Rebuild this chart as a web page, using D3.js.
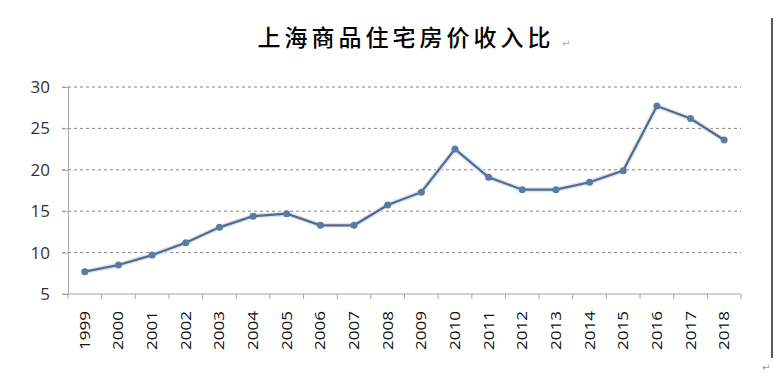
<!DOCTYPE html>
<html>
<head>
<meta charset="utf-8">
<script src="https://cdn.jsdelivr.net/npm/d3@7"></script>
<style>
  body { margin: 0; background: #fff; }
  svg { display: block; }
</style>
</head>
<body>
<div id="chart"></div>
<script>
// data
const years = ["1999", "2000", "2001", "2002", "2003", "2004", "2005", "2006", "2007", "2008",
  "2009", "2010", "2011", "2012", "2013", "2014", "2015", "2016", "2017", "2018"];
const ratios = [7.7, 8.5, 9.7, 11.2, 13.05, 14.4, 14.7, 13.3, 13.3, 15.75,
  17.3, 22.5, 19.1, 17.6, 17.6, 18.5, 19.9, 27.7, 26.2, 23.6];
const yTicks = [5, 10, 15, 20, 25, 30];
const title = "上海商品住宅房价收入比";

const width = 782, height = 377;
const margin = { top: 87, right: 41, bottom: 83, left: 68 };

const svg = d3.select("#chart").append("svg")
  .attr("width", width)
  .attr("height", height);

const x = d3.scaleBand()
  .domain(years)
  .range([margin.left, width - margin.right])
  .padding(0);

const y = d3.scaleLinear()
  .domain([5, 30])
  .range([height - margin.bottom, margin.top]);

// title
svg.append("text")
  .attr("x", 406)
  .attr("y", 46)
  .attr("text-anchor", "middle")
  .attr("font-family", "'Noto Sans CJK SC', sans-serif")
  .attr("font-size", 23)
  .attr("font-weight", 500)
  .attr("letter-spacing", 4)
  .attr("fill", "#000")
  .text(title);

// little return marks from the word document
svg.append("text")
  .attr("x", 562).attr("y", 47)
  .attr("font-size", 10).attr("fill", "#aaa")
  .attr("font-family", "DejaVu Sans")
  .text("↵");
svg.append("text")
  .attr("x", 762).attr("y", 371)
  .attr("font-size", 10).attr("fill", "#999")
  .attr("font-family", "DejaVu Sans")
  .text("↵");

// page edge line on the right
svg.append("line")
  .attr("x1", 772).attr("x2", 772)
  .attr("y1", 18).attr("y2", 358)
  .attr("stroke", "#222")
  .attr("stroke-width", 1.5);

// gridlines
svg.append("g")
  .selectAll("line")
  .data(yTicks.filter(d => d > 5))
  .join("line")
  .attr("x1", margin.left - 6)
  .attr("x2", width - margin.right)
  .attr("y1", d => y(d))
  .attr("y2", d => y(d))
  .attr("stroke", "#858585")
  .attr("stroke-width", 1)
  .attr("stroke-dasharray", "3,3");

// y axis
const yAxis = svg.append("g")
  .attr("transform", `translate(${margin.left},0)`)
  .call(d3.axisLeft(y).tickValues(yTicks).tickSize(6).tickPadding(12));
yAxis.select(".domain").attr("stroke", "#a6a6a6");
yAxis.selectAll(".tick line").attr("stroke", "#a6a6a6");
yAxis.selectAll(".tick text")
  .attr("font-family", "'Open Sans', sans-serif")
  .attr("font-size", 17)
  .attr("fill", "#333");

// x axis
const xAxis = svg.append("g")
  .attr("transform", `translate(0,${y(5)})`)
  .call(d3.axisBottom(x).tickSize(0).tickFormat(""));
xAxis.select(".domain").attr("stroke", "#a6a6a6").attr("d",
  `M${margin.left - 6},0H${width - margin.right}`);

// tick marks between categories
svg.append("g")
  .selectAll("line")
  .data(years.concat(["end"]))
  .join("line")
  .attr("x1", (d, i) => i < years.length ? x(d) : x(years[years.length - 1]) + x.bandwidth())
  .attr("x2", (d, i) => i < years.length ? x(d) : x(years[years.length - 1]) + x.bandwidth())
  .attr("y1", y(5))
  .attr("y2", y(5) + 5)
  .attr("stroke", "#a6a6a6");

// rotated year labels
svg.append("g")
  .selectAll("text")
  .data(years)
  .join("text")
  .attr("transform", d => `translate(${x(d) + x.bandwidth() / 2 + 5},${y(5) + 17}) rotate(-90)`)
  .attr("text-anchor", "end")
  .attr("font-family", "'Open Sans', sans-serif")
  .attr("font-size", 14.5)
  .attr("fill", "#111")
  .attr("textLength", 39)
  .attr("lengthAdjust", "spacingAndGlyphs")
  .text(d => d);

// line
const line = d3.line()
  .x((d, i) => x(years[i]) + x.bandwidth() / 2)
  .y(d => y(d));

svg.append("path")
  .datum(ratios)
  .attr("d", line)
  .attr("fill", "none")
  .attr("stroke", "#dbe6f2")
  .attr("stroke-width", 5);

svg.append("path")
  .datum(ratios)
  .attr("d", line)
  .attr("fill", "none")
  .attr("stroke", "#55698a")
  .attr("stroke-width", 2.2);

svg.append("g")
  .selectAll("circle")
  .data(ratios)
  .join("circle")
  .attr("cx", (d, i) => x(years[i]) + x.bandwidth() / 2)
  .attr("cy", d => y(d))
  .attr("r", 3.5)
  .attr("fill", "#5a7ba3");
</script>
</body>
</html>
